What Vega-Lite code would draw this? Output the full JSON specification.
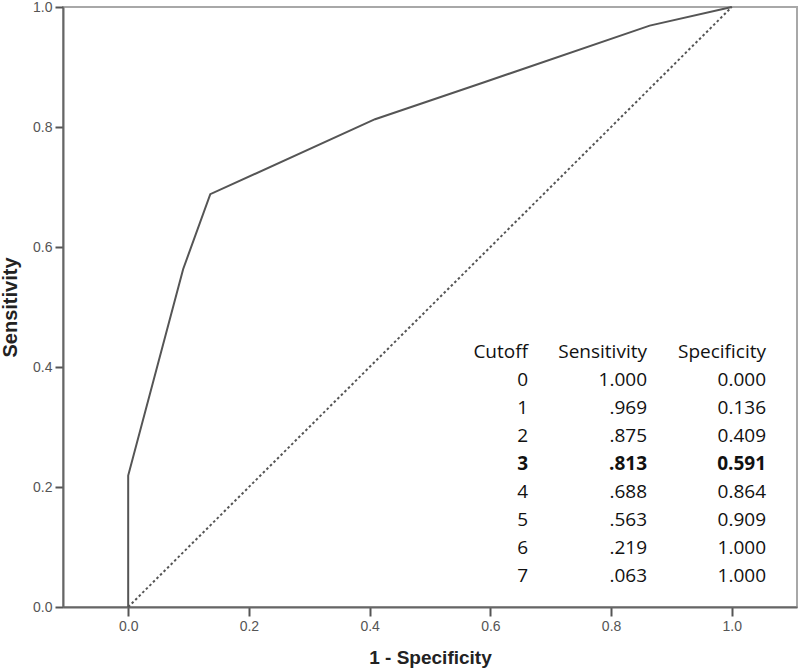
{
  "$schema": "https://vega.github.io/schema/vega-lite/v6.json",
  "width": 734,
  "height": 600,
  "autosize": "none",
  "padding": {"left": 63, "top": 7, "right": 3, "bottom": 65},
  "background": "white",
  "config": {"view": {"stroke": "#a8a8a8", "strokeWidth": 2}},
  "datasets": {
    "roc": [
      {"fpr": 0, "sens": 0},
      {"fpr": 0, "sens": 0.063},
      {"fpr": 0, "sens": 0.219},
      {"fpr": 0.091, "sens": 0.563},
      {"fpr": 0.136, "sens": 0.688},
      {"fpr": 0.409, "sens": 0.813},
      {"fpr": 0.591, "sens": 0.875},
      {"fpr": 0.864, "sens": 0.969},
      {"fpr": 1, "sens": 1}
    ],
    "ref": [
      {"fpr": 0, "sens": 0},
      {"fpr": 1, "sens": 1}
    ],
    "table": [
      {"row": "h", "Cutoff": "Cutoff", "Sensitivity": "Sensitivity", "Specificity": "Specificity"},
      {"row": "0", "Cutoff": "0", "Sensitivity": "1.000", "Specificity": "0.000"},
      {"row": "1", "Cutoff": "1", "Sensitivity": ".969", "Specificity": "0.136"},
      {"row": "2", "Cutoff": "2", "Sensitivity": ".875", "Specificity": "0.409"},
      {"row": "3", "Cutoff": "3", "Sensitivity": ".813", "Specificity": "0.591"},
      {"row": "4", "Cutoff": "4", "Sensitivity": ".688", "Specificity": "0.864"},
      {"row": "5", "Cutoff": "5", "Sensitivity": ".563", "Specificity": "0.909"},
      {"row": "6", "Cutoff": "6", "Sensitivity": ".219", "Specificity": "1.000"},
      {"row": "7", "Cutoff": "7", "Sensitivity": ".063", "Specificity": "1.000"}
    ]
  },
  "layer": [
    {
      "layer": [
        {
          "data": {"name": "ref"},
          "mark": {"type": "line", "color": "#555555", "strokeDash": [2.5, 2.5], "strokeWidth": 2},
          "encoding": {
            "x": {
              "field": "fpr", "type": "quantitative",
              "scale": {"domain": [-0.108, 1.108], "nice": false, "zero": false},
              "axis": {
                "values": [0, 0.2, 0.4, 0.6, 0.8, 1.0], "format": ".1f", "grid": false,
                "labelColor": "#555555", "labelFont": "Liberation Sans", "labelFontSize": 14,
                "labelPadding": 3, "tickSize": 9, "tickColor": "#555555", "tickWidth": 2,
                "domainColor": "#666666", "domainWidth": 2,
                "title": "1 - Specificity", "titleFont": "Liberation Sans", "titleFontSize": 19,
                "titleFontWeight": "bold", "titleColor": "#222222", "titlePadding": 15
              }
            },
            "y": {
              "field": "sens", "type": "quantitative",
              "scale": {"domain": [0, 1], "nice": false},
              "axis": {
                "values": [0, 0.2, 0.4, 0.6, 0.8, 1.0], "format": ".1f", "grid": false,
                "labelColor": "#555555", "labelFont": "Liberation Sans", "labelFontSize": 14,
                "labelPadding": 3, "tickSize": 8, "tickColor": "#555555", "tickWidth": 2,
                "domainColor": "#666666", "domainWidth": 2,
                "title": "Sensitivity", "titleFont": "Liberation Sans", "titleFontSize": 20,
                "titleFontWeight": "bold", "titleColor": "#222222", "titlePadding": 12
              }
            }
          }
        },
        {
          "data": {"name": "roc"},
          "mark": {"type": "line", "color": "#555555", "strokeWidth": 2},
          "encoding": {
            "x": {"field": "fpr", "type": "quantitative"},
            "y": {"field": "sens", "type": "quantitative"},
            "order": {"field": "sens", "type": "quantitative"}
          }
        }
      ]
    },
    {
      "data": {"name": "table"},
      "transform": [{"fold": ["Cutoff", "Sensitivity", "Specificity"], "as": ["column", "label"]}],
      "encoding": {
        "x": {
          "field": "column", "type": "nominal",
          "scale": {"type": "point", "domain": ["Cutoff", "Sensitivity", "Specificity"], "range": [465, 703], "padding": 0},
          "axis": null
        },
        "y": {
          "field": "row", "type": "ordinal",
          "scale": {"type": "point", "domain": ["h", "0", "1", "2", "3", "4", "5", "6", "7"], "range": [345, 569], "padding": 0},
          "axis": null
        },
        "text": {"field": "label", "type": "nominal"}
      },
      "layer": [
        {
          "transform": [{"filter": "datum.row != '3'"}],
          "mark": {"type": "text", "align": "right", "baseline": "middle", "font": "Open Sans", "fontSize": 19, "color": "#111111"}
        },
        {
          "transform": [{"filter": "datum.row == '3'"}],
          "mark": {"type": "text", "align": "right", "baseline": "middle", "font": "Open Sans", "fontSize": 19, "fontWeight": "bold", "color": "#111111"}
        }
      ]
    }
  ],
  "resolve": {"scale": {"x": "independent", "y": "independent"}}
}
